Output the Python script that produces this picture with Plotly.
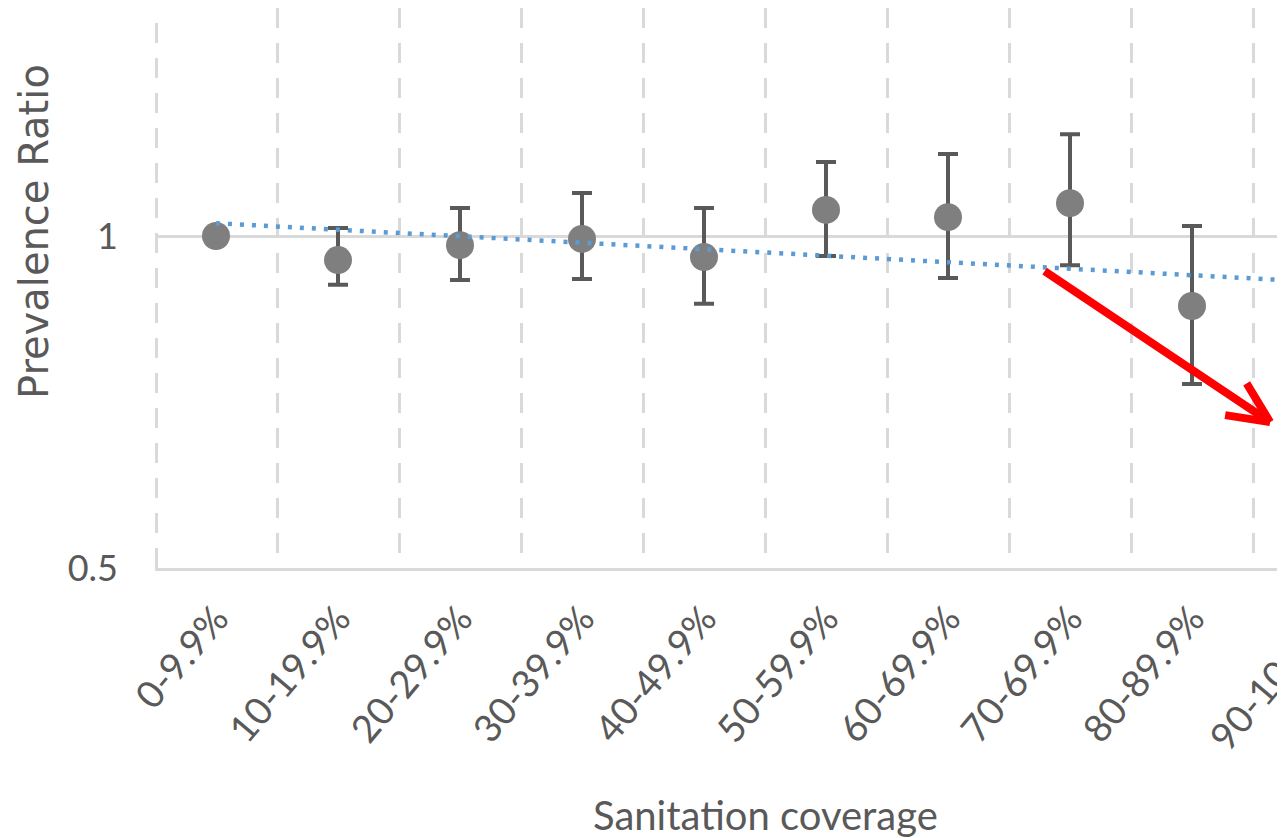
import math
import plotly.graph_objects as go

# ---------------- data ----------------
categories = ["0-9.9%", "10-19.9%", "20-29.9%", "30-39.9%", "40-49.9%",
              "50-59.9%", "60-69.9%", "70-69.9%", "80-89.9%", "90-100%"]
prevalence_ratio = [1.00, 0.951, 0.981, 0.994, 0.957, 1.056, 1.040, 1.071, 0.864, None]
ci_upper = [1.00, 1.017, 1.060, 1.094, 1.060, 1.167, 1.187, 1.237, 1.021, None]
ci_lower = [1.00, 0.903, 0.912, 0.914, 0.868, 0.959, 0.916, 0.941, 0.734, None]
trend_categories = ["0-9.9%", "90-100%"]
trend_values = [1.027, 0.909]
y_tick_values = [0.5, 1]
y_tick_labels = ["0.5", "1"]
arrow_tip = (8.64, 0.678)  # category index, prevalence ratio

# ---------------- layout constants ----------------
OFF = 8                      # page body margin in the browser
W, H = 1285 - OFF, 838 - OFF
ML, MR, MT, MB = 155 - OFF, 0, 0, 270
CAT_PX = 122
PX_PER_LOG = 332 / math.log10(2)
plot_h = H - MT - MB
x_lo = -0.5
x_hi = x_lo + (W - ML - MR) / CAT_PX
y_lo = math.log10(0.5)
y_hi = y_lo + plot_h / PX_PER_LOG

GRID = "#D9D9D9"
TXT = "#595959"
TICK_ANGLE = -50
TICK_SIZE = 38

err_plus = [(u - v) if v is not None else None for u, v in zip(ci_upper, prevalence_ratio)]
err_minus = [(v - l) if v is not None else None for l, v in zip(ci_lower, prevalence_ratio)]

fig = go.Figure()
fig.add_trace(go.Scatter(
    x=categories, y=prevalence_ratio, mode="markers",
    marker=dict(color="#7F7F7F", size=28),
    error_y=dict(type="data", symmetric=False, array=err_plus, arrayminus=err_minus,
                 color="#595959", thickness=4, width=10),
    showlegend=False, cliponaxis=False,
))
fig.add_trace(go.Scatter(
    x=trend_categories, y=trend_values, mode="lines",
    line=dict(color="#5B9BD5", width=4.5, dash="4px,8px"),
    showlegend=False,
))

fig.update_layout(
    width=W, height=H,
    margin=dict(l=ML, r=MR, t=MT, b=MB, pad=0, autoexpand=False),
    paper_bgcolor="white", plot_bgcolor="white",
    font=dict(family="Lato", color=TXT),
    xaxis=dict(
        type="category", categoryorder="array", categoryarray=categories,
        range=[x_lo, x_hi], tickson="boundaries",
        showgrid=True, gridcolor=GRID, gridwidth=3, griddash="20px,15px",
        showline=True, linecolor=GRID, linewidth=3,
        ticks="", tickangle=TICK_ANGLE, tickfont=dict(family="Lato", size=TICK_SIZE, color=TXT),
        ticklabelstandoff=10,
        zeroline=False,
    ),
    yaxis=dict(
        type="log", range=[y_lo, y_hi],
        tickvals=y_tick_values, ticktext=y_tick_labels,
        showgrid=True, gridcolor=GRID, gridwidth=3,
        showline=False, zeroline=False, ticks="",
        tickfont=dict(family="Lato", size=36, color=TXT),
        ticklabelstandoff=36,
    ),
    shapes=[dict(type="line", xref="x", yref="paper",
                 x0=x_lo + 1.5 / CAT_PX, x1=x_lo + 1.5 / CAT_PX, y0=0, y1=1,
                 line=dict(color=GRID, width=3, dash="20px,15px"), layer="below")],
)

# y axis title
fig.add_annotation(
    text="Prevalence Ratio", xref="paper", yref="paper",
    x=0, xshift=-(155 - 34), y=(plot_h - (232 - OFF)) / plot_h,
    textangle=-90, showarrow=False, xanchor="center", yanchor="middle",
    font=dict(family="DejaVu Sans", size=40, color=TXT),
)

# x axis title (centered on full category span)
fig.add_annotation(
    text="Sanitation coverage", xref="x", yref="paper",
    x=(len(categories) - 1) / 2, y=0, yshift=-(815 - 568),
    showarrow=False, xanchor="center", yanchor="middle",
    font=dict(family="Lato", size=40, color=TXT),
)

# last category label (beyond the visible range)
last_idx = len(categories) - 1
fig.add_annotation(
    text=categories[last_idx], xref="paper", yref="paper",
    x=(last_idx - x_lo) / (x_hi - x_lo), y=0, xshift=23, yshift=-39,
    textangle=TICK_ANGLE, showarrow=False, xanchor="right", yanchor="top",
    font=dict(family="Lato", size=TICK_SIZE, color=TXT),
)

# red arrow (shaft + two wings)
shaft_ax, shaft_ay = -227, -152
tip_y = math.log10(arrow_tip[1])
fig.add_annotation(x=arrow_tip[0], y=tip_y, xref="x", yref="y", ax=shaft_ax, ay=shaft_ay,
                   text="", showarrow=True, arrowhead=0, arrowwidth=8,
                   arrowcolor="#FF0000", standoff=0)
ang = math.atan2(shaft_ay, shaft_ax)
for d in (math.radians(25), math.radians(-25)):
    fig.add_annotation(x=arrow_tip[0], y=tip_y, xref="x", yref="y",
                       ax=47 * math.cos(ang + d), ay=47 * math.sin(ang + d),
                       text="", showarrow=True, arrowhead=0, arrowwidth=8,
                       arrowcolor="#FF0000", standoff=0)

fig.write_html("out.html")
